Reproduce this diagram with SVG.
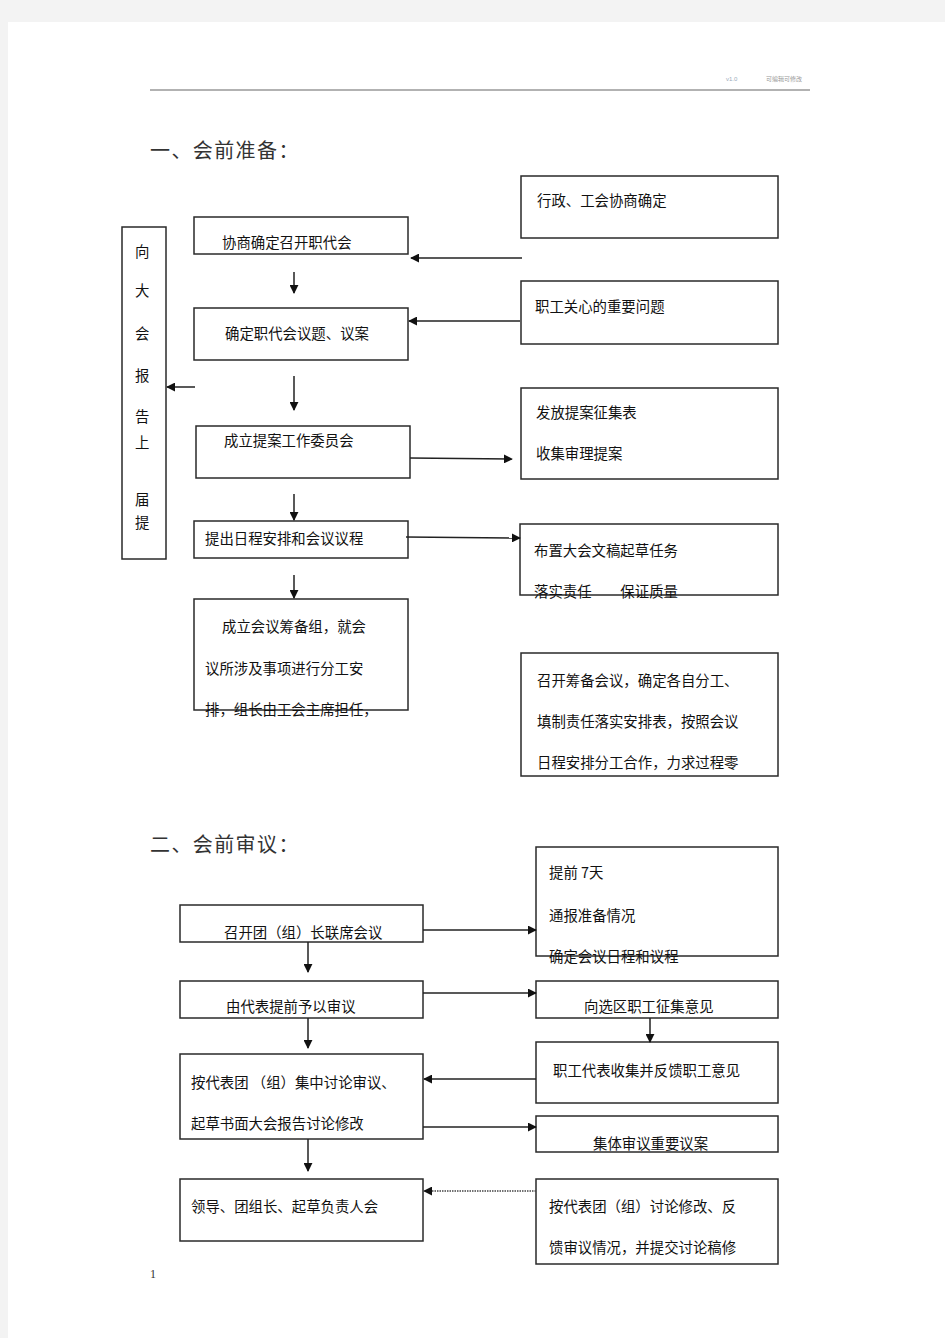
<svg xmlns="http://www.w3.org/2000/svg" width="945" height="1338" viewBox="0 0 945 1338">
<defs>
<style>
.bx{fill:none;stroke:#2a2a2a;stroke-width:1.5}
.t{font-family:"Noto Sans CJK SC","Liberation Sans",sans-serif;font-size:14.4px;fill:#111}
.h{font-family:"Noto Sans CJK SC","Liberation Serif",serif;font-size:20px;fill:#333;letter-spacing:1.4px}
.c{stroke:#222;stroke-width:1.5;fill:none;marker-end:url(#ah)}
.d{stroke:#444;stroke-width:1.5;fill:none;stroke-dasharray:1.5 1;marker-end:url(#ah)}
</style>
<marker id="ah" viewBox="0 0 10 10" refX="9" refY="5" markerWidth="6" markerHeight="6" orient="auto" markerUnits="strokeWidth">
<path d="M0,0 L10,5 L0,10 z" fill="#111"/>
</marker>
</defs>
<rect x="0" y="0" width="945" height="1338" fill="#f3f3f3"/>
<rect x="8" y="22" width="937" height="1316" fill="#ffffff"/>
<line x1="150" y1="90" x2="810" y2="90" stroke="#666" stroke-width="1.2"/>
<text x="726" y="81" style="font-family:'Liberation Sans',sans-serif;font-size:6px;fill:#9ab">v1.0</text>
<text x="766" y="81" style="font-family:'Noto Sans CJK SC',sans-serif;font-size:6px;fill:#999">可编辑可修改</text>
<text class="h" x="150" y="158">一、会前准备：</text>
<text class="h" x="150" y="852">二、会前审议：</text>
<text x="150" y="1278" style="font-family:'Liberation Serif',serif;font-size:12px;fill:#333">1</text>

<g id="left-report">
<rect class="bx" x="122" y="227" width="44" height="332"/>
<text class="t" x="135" y="257">向</text>
<text class="t" x="135" y="296">大</text>
<text class="t" x="135" y="339">会</text>
<text class="t" x="135" y="381">报</text>
<text class="t" x="135" y="422">告</text>
<text class="t" x="135" y="448">上</text>
<text class="t" x="135" y="505">届</text>
<text class="t" x="135" y="528">提</text>
</g>
<g id="n1"><rect class="bx" x="194" y="217" width="214" height="37"/><text class="t" x="222" y="248">协商确定召开职代会</text></g>
<g id="n2"><rect class="bx" x="194" y="308" width="214" height="52"/><text class="t" x="225" y="339">确定职代会议题、议案</text></g>
<g id="n3"><rect class="bx" x="196" y="426" width="214" height="52"/><text class="t" x="224" y="446">成立提案工作委员会</text></g>
<g id="n4"><rect class="bx" x="194" y="521" width="214" height="37"/><text class="t" x="205" y="544">提出日程安排和会议议程</text></g>
<g id="n5"><rect class="bx" x="194" y="599" width="214" height="111"/>
<text class="t" x="222" y="632">成立会议筹备组，就会</text>
<text class="t" x="205" y="674">议所涉及事项进行分工安</text>
<text class="t" x="205" y="715">排，组长由工会主席担任，</text></g>
<g id="r1"><rect class="bx" x="521" y="176" width="257" height="62"/><text class="t" x="537" y="206">行政、工会协商确定</text></g>
<g id="r2"><rect class="bx" x="521" y="281" width="257" height="63"/><text class="t" x="535" y="312">职工关心的重要问题</text></g>
<g id="r3"><rect class="bx" x="521" y="388" width="257" height="91"/><text class="t" x="536" y="418">发放提案征集表</text><text class="t" x="536" y="459">收集审理提案</text></g>
<g id="r4"><rect class="bx" x="520" y="524" width="258" height="71"/><text class="t" x="534" y="556">布置大会文稿起草任务</text><text class="t" x="534" y="597">落实责任　　保证质量</text></g>
<g id="r5"><rect class="bx" x="521" y="653" width="257" height="123"/>
<text class="t" x="537" y="686">召开筹备会议，确定各自分工、</text>
<text class="t" x="537" y="727">填制责任落实安排表，按照会议</text>
<text class="t" x="537" y="768">日程安排分工合作，力求过程零</text></g>

<g id="s1"><rect class="bx" x="180" y="905" width="243" height="37"/><text class="t" x="224" y="938">召开团（组）长联席会议</text></g>
<g id="s2"><rect class="bx" x="180" y="981" width="243" height="37"/><text class="t" x="226" y="1012">由代表提前予以审议</text></g>
<g id="s3"><rect class="bx" x="180" y="1054" width="243" height="85"/><text class="t" x="191" y="1088">按代表团 （组）集中讨论审议、</text><text class="t" x="191" y="1129">起草书面大会报告讨论修改</text></g>
<g id="s4"><rect class="bx" x="180" y="1179" width="243" height="62"/><text class="t" x="191" y="1212">领导、团组长、起草负责人会</text></g>
<g id="t1"><rect class="bx" x="536" y="847" width="242" height="109"/><text class="t" x="549" y="878">提前 7天</text><text class="t" x="549" y="921">通报准备情况</text><text class="t" x="549" y="962">确定会议日程和议程</text></g>
<g id="t2"><rect class="bx" x="536" y="981" width="242" height="37"/><text class="t" x="584" y="1012">向选区职工征集意见</text></g>
<g id="t3"><rect class="bx" x="536" y="1042" width="242" height="61"/><text class="t" x="553" y="1076">职工代表收集并反馈职工意见</text></g>
<g id="t4"><rect class="bx" x="536" y="1116" width="242" height="36"/><text class="t" x="593" y="1149">集体审议重要议案</text></g>
<g id="t5"><rect class="bx" x="536" y="1179" width="242" height="85"/><text class="t" x="549" y="1212">按代表团（组）讨论修改、反</text><text class="t" x="549" y="1253">馈审议情况，并提交讨论稿修</text></g>

<g id="connectors">
<line class="c" x1="294" y1="272" x2="294" y2="293"/>
<line class="c" x1="294" y1="376" x2="294" y2="410"/>
<line class="c" x1="294" y1="494" x2="294" y2="520"/>
<line class="c" x1="294" y1="575" x2="294" y2="598"/>
<line class="c" x1="195" y1="387" x2="167" y2="387"/>
<line class="c" x1="522" y1="258" x2="411" y2="258"/>
<line class="c" x1="520" y1="321" x2="409" y2="321"/>
<line class="c" x1="410" y1="458" x2="512" y2="459"/>
<line class="c" x1="406" y1="537" x2="520" y2="538"/>
<line class="c" x1="423" y1="930" x2="536" y2="930"/>
<line class="c" x1="308" y1="942" x2="308" y2="972"/>
<line class="c" x1="423" y1="993" x2="536" y2="993"/>
<line class="c" x1="308" y1="1018" x2="308" y2="1048"/>
<line class="c" x1="650" y1="1018" x2="650" y2="1042"/>
<line class="c" x1="536" y1="1079" x2="424" y2="1079"/>
<line class="c" x1="423" y1="1127" x2="536" y2="1127"/>
<line class="c" x1="308" y1="1139" x2="308" y2="1171"/>
<line class="d" x1="536" y1="1191" x2="424" y2="1191"/>
</g>
</svg>
